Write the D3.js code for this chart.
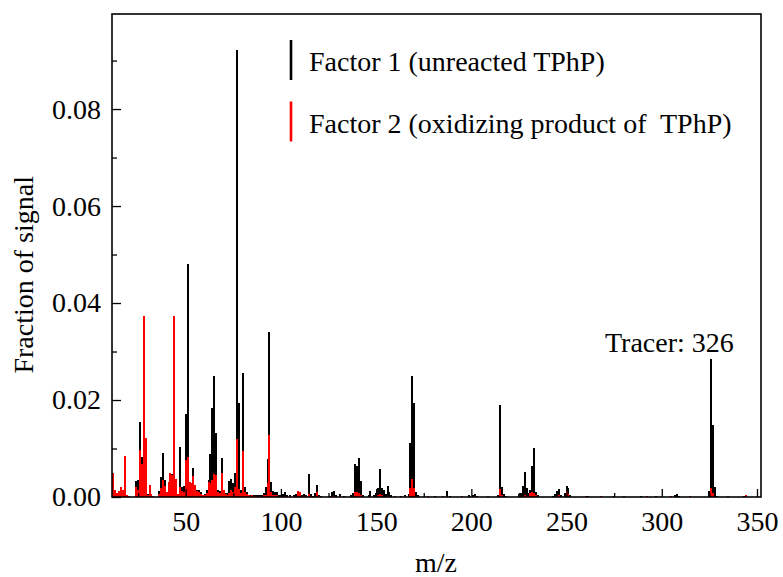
<!DOCTYPE html>
<html lang="en">
<head>
<meta charset="UTF-8">
<title>PMF factor mass spectra</title>
<script src="https://d3js.org/d3.v7.min.js"></script>
<style>
  body { margin: 0; background: #fff; }
  svg { display: block; font-family: "Liberation Serif", "Times New Roman", Times, serif; }
  svg text { font-family: "Liberation Serif", "Times New Roman", Times, serif !important; fill: #000; }
  .tick line { stroke: #000; stroke-width: 1.3; }
  .tick text { font-size: 28px; }
</style>
</head>
<body>
<svg id="chart"></svg>
<script>
// [m/z, fraction of signal]
const factor1 = [
  [12,0.0015],[13,0.0006],[14,0.0005],[15,0.0008],[16,0.0005],[17,0.0006],[18,0.0020],[19,0.0003],
  [24,0.0033],[25,0.0036],[26,0.0155],[27,0.0083],[28,0.0080],[29,0.0050],[30,0.0006],[31,0.0010],[32,0.0004],
  [36,0.0012],[37,0.0041],[38,0.0090],[39,0.0035],[40,0.0008],[41,0.0025],[42,0.0030],[43,0.0048],[44,0.0045],
  [45,0.0020],[46,0.0006],[47,0.0104],[48,0.0020],[49,0.0022],[50,0.0172],[51,0.0480],[52,0.0030],[53,0.0025],
  [54,0.0059],[55,0.0022],[56,0.0015],[57,0.0015],[58,0.0010],[59,0.0005],[60,0.0006],[61,0.0015],[62,0.0035],
  [63,0.0089],[64,0.0183],[65,0.0250],[66,0.0133],[67,0.0015],[68,0.0012],[69,0.0080],[70,0.0010],[71,0.0008],
  [72,0.0008],[73,0.0032],[74,0.0038],[75,0.0028],[76,0.0050],[77,0.0922],[78,0.0193],[79,0.0015],[80,0.0255],
  [81,0.0021],[82,0.0010],[83,0.0005],[84,0.0004],[85,0.0005],[86,0.0004],[87,0.0005],[88,0.0004],[89,0.0005],
  [90,0.0004],[91,0.0008],[92,0.0021],[93,0.0078],[94,0.0341],[95,0.0030],[96,0.0012],[97,0.0010],[98,0.0010],
  [99,0.0004],[100,0.0005],[101,0.0006],[102,0.0010],[103,0.0004],[105,0.0004],[107,0.0005],[108,0.0006],
  [109,0.0013],[110,0.0011],[111,0.0004],[112,0.0006],[113,0.0004],[115,0.0048],[116,0.0006],[117,0.0003],
  [118,0.0008],[119,0.0025],[120,0.0004],[121,0.0003],[126,0.0003],[127,0.0011],[128,0.0013],[129,0.0004],
  [131,0.0006],[133,0.0003],[137,0.0004],[138,0.0008],[139,0.0068],[140,0.0063],[141,0.0081],[142,0.0032],
  [143,0.0005],[146,0.0004],[147,0.0012],[149,0.0005],[150,0.0008],[151,0.0018],[152,0.0058],[153,0.0018],
  [154,0.0015],[155,0.0006],[156,0.0023],[157,0.0010],[158,0.0004],[163,0.0003],[165,0.0004],[167,0.0006],
  [168,0.0111],[169,0.0250],[170,0.0193],[171,0.0010],[172,0.0004],[181,0.0003],[187,0.0013],[189,0.0003],
  [199,0.0004],[201,0.0005],[202,0.0006],[203,0.0003],[214,0.0005],[215,0.0190],[216,0.0020],[217,0.0007],
  [218,0.0003],[225,0.0006],[226,0.0009],[227,0.0023],[228,0.0052],[229,0.0019],[230,0.0008],[231,0.0014],
  [232,0.0064],[233,0.0102],[234,0.0010],[235,0.0004],[243,0.0003],[244,0.0006],[245,0.0013],[246,0.0016],
  [247,0.0004],[249,0.0008],[250,0.0023],[251,0.0019],[252,0.0005],[261,0.0002],[275,0.0003],[289,0.0003],
  [297,0.0002],[307,0.0004],[308,0.0006],[309,0.0003],[325,0.0012],[326,0.0284],[327,0.0148],[328,0.0021],
  [329,0.0003],[343,0.0002]
];

const factor2 = [
  [12,0.0050],[13,0.0014],[14,0.0008],[15,0.0012],[16,0.0021],[17,0.0015],[18,0.0084],[19,0.0004],[20,0.0003],
  [24,0.0021],[25,0.0015],[26,0.0097],[27,0.0069],[28,0.0374],[29,0.0121],[30,0.0005],[31,0.0025],[32,0.0007],
  [33,0.0002],[36,0.0006],[37,0.0018],[38,0.0035],[39,0.0023],[40,0.0010],[41,0.0030],[42,0.0050],[43,0.0045],
  [44,0.0374],[45,0.0038],[46,0.0007],[47,0.0020],[48,0.0012],[49,0.0010],[50,0.0076],[51,0.0082],[52,0.0030],
  [53,0.0028],[54,0.0043],[55,0.0025],[56,0.0012],[57,0.0010],[58,0.0006],[59,0.0004],[60,0.0005],[61,0.0008],
  [62,0.0030],[63,0.0028],[64,0.0036],[65,0.0047],[66,0.0045],[67,0.0010],[68,0.0009],[69,0.0049],[70,0.0015],
  [71,0.0006],[72,0.0004],[73,0.0008],[74,0.0015],[75,0.0010],[76,0.0020],[77,0.0119],[78,0.0016],[79,0.0008],
  [80,0.0095],[81,0.0010],[82,0.0006],[83,0.0004],[84,0.0003],[85,0.0004],[86,0.0003],[87,0.0003],[89,0.0003],
  [91,0.0004],[92,0.0005],[93,0.0028],[94,0.0128],[95,0.0010],[96,0.0005],[97,0.0004],[98,0.0004],[100,0.0002],
  [102,0.0003],[105,0.0003],[107,0.0003],[109,0.0012],[110,0.0011],[112,0.0002],[115,0.0006],[116,0.0003],
  [118,0.0003],[119,0.0011],[120,0.0002],[127,0.0003],[128,0.0003],[131,0.0002],[139,0.0011],[140,0.0011],
  [141,0.0008],[142,0.0004],[147,0.0002],[151,0.0004],[152,0.0006],[153,0.0004],[156,0.0003],[160,0.0002],
  [165,0.0002],[168,0.0018],[169,0.0038],[170,0.0018],[171,0.0003],[177,0.0002],[185,0.0002],[195,0.0002],
  [202,0.0002],[209,0.0002],[215,0.0016],[216,0.0004],[227,0.0003],[228,0.0005],[229,0.0003],[231,0.0008],
  [232,0.0010],[233,0.0009],[234,0.0004],[245,0.0003],[246,0.0004],[250,0.0013],[251,0.0006],[260,0.0002],
  [268,0.0002],[280,0.0002],[292,0.0002],[305,0.0002],[315,0.0002],[326,0.0019],[327,0.0008],[335,0.0002],
  [344,0.0004]
];

const xTicks = [50, 100, 150, 200, 250, 300, 350];
const xMinorTicks = [25, 75, 125, 175, 225, 275, 325];
const yTicks = [0, 0.02, 0.04, 0.06, 0.08];
const yMinorTicks = [0.01, 0.03, 0.05, 0.07, 0.09];
const legendLabels = ["Factor 1 (unreacted TPhP)", "Factor 2 (oxidizing product of  TPhP)"];
const seriesColors = ["#000000", "#ff0000"];

const W = 783, H = 577;
const margin = { top: 14, right: 22, bottom: 80, left: 112 };
const iw = W - margin.left - margin.right;
const ih = H - margin.top - margin.bottom;

const svg = d3.select("#chart").attr("width", W).attr("height", H);
const g = svg.append("g").attr("transform", `translate(${margin.left},${margin.top})`);

const x = d3.scaleLinear().domain([11.3, 352.1]).range([0, iw]);
const y = d3.scaleLinear().domain([0, 0.0996]).range([ih, 0]);

const bw = Math.max(2, x(1) - x(0));

// black first, red on top
[factor1, factor2].forEach((series, i) => {
  g.append("g")
    .selectAll("rect")
    .data(series)
    .enter().append("rect")
    .attr("x", d => x(d[0]) - bw / 2)
    .attr("y", d => y(d[1]))
    .attr("width", bw)
    .attr("height", d => ih - y(d[1]))
    .attr("fill", seriesColors[i])
    .attr("shape-rendering", "crispEdges");
});

// axes, ticks pointing inward
const xAxis = g.append("g").attr("transform", `translate(0,${ih})`)
  .call(d3.axisBottom(x).tickValues(xTicks).tickSizeInner(-8).tickSizeOuter(0).tickPadding(14));
const xMinor = g.append("g").attr("transform", `translate(0,${ih})`)
  .call(d3.axisBottom(x).tickValues(xMinorTicks).tickSizeInner(-4).tickSizeOuter(0).tickFormat(""));
const yAxis = g.append("g")
  .call(d3.axisLeft(y).tickValues(yTicks).tickFormat(d3.format(".2f")).tickSizeInner(-9).tickSizeOuter(0).tickPadding(11));
const yMinor = g.append("g")
  .call(d3.axisLeft(y).tickValues(yMinorTicks).tickSizeInner(-5).tickSizeOuter(0).tickFormat(""));

[xAxis, xMinor, yAxis, yMinor].forEach(a => {
  a.select(".domain").remove();
  a.attr("font-family", null).attr("font-size", null);
});

// frame
g.append("rect")
  .attr("x", 0).attr("y", 0).attr("width", iw).attr("height", ih)
  .attr("fill", "none").attr("stroke", "#000").attr("stroke-width", 1.6);

// axis titles
svg.append("text")
  .attr("x", 436).attr("y", 572)
  .attr("text-anchor", "middle").attr("font-size", 28)
  .text("m/z");

svg.append("text")
  .attr("transform", `translate(33,${margin.top + ih * 0.54}) rotate(-90)`)
  .attr("text-anchor", "middle").attr("font-size", 28)
  .text("Fraction of signal");

// legend
const legend = svg.append("g").attr("transform", "translate(291,40)");
legendLabels.forEach((lab, i) => {
  const row = legend.append("g").attr("transform", `translate(0,${i * 61.5})`);
  row.append("line")
    .attr("x1", 0).attr("x2", 0).attr("y1", 0).attr("y2", 40)
    .attr("stroke", seriesColors[i]).attr("stroke-width", 2.6);
  row.append("text")
    .attr("x", 18).attr("y", 31)
    .attr("font-size", 28)
    .style("white-space", "pre")
    .text(lab);
});

// annotation for the tracer ion
svg.append("text")
  .attr("x", 605).attr("y", 352)
  .attr("font-size", 28)
  .text("Tracer: 326");
</script>
</body>
</html>
